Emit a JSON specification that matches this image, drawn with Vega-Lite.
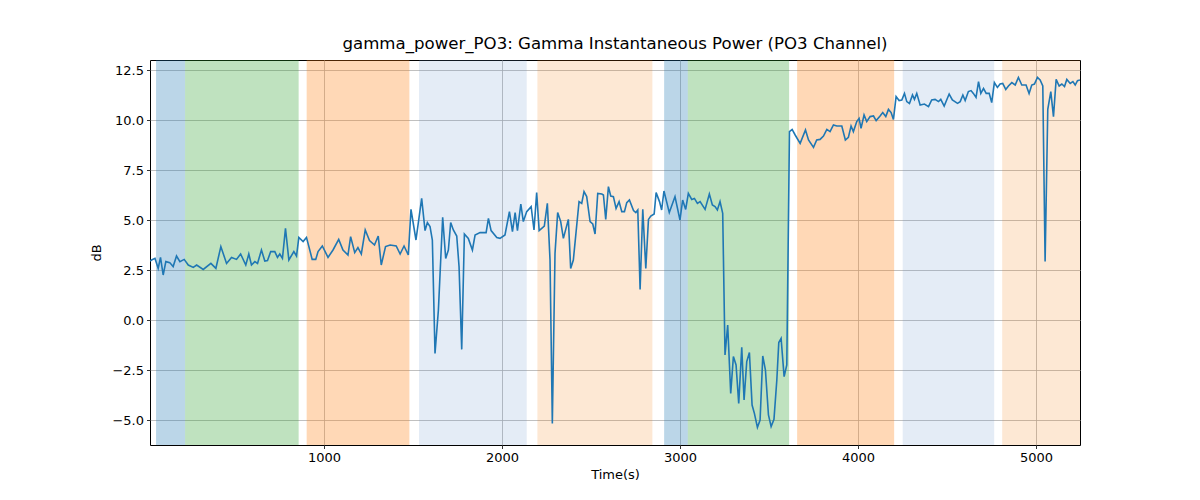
{
  "$schema": "https://vega.github.io/schema/vega-lite/v6.json",
  "width": 930,
  "height": 385,
  "autosize": "none",
  "padding": {"left": 150, "top": 60, "right": 120, "bottom": 55},
  "title": {
    "text": "gamma_power_PO3: Gamma Instantaneous Power (PO3 Channel)",
    "font": "DejaVu Sans",
    "fontSize": 16.6,
    "fontWeight": "normal",
    "color": "black",
    "offset": 7
  },
  "datasets": {
    "spans": [
      {"start": 57, "end": 220, "kind": "A"},
      {"start": 220, "end": 858, "kind": "B"},
      {"start": 903, "end": 1480, "kind": "C"},
      {"start": 1534, "end": 2139, "kind": "D"},
      {"start": 2199, "end": 2845, "kind": "E"},
      {"start": 2911, "end": 3044, "kind": "A"},
      {"start": 3044, "end": 3613, "kind": "B"},
      {"start": 3658, "end": 4203, "kind": "C"},
      {"start": 4251, "end": 4765, "kind": "D"},
      {"start": 4810, "end": 5247, "kind": "E"}
    ],
    "power": [
      {"t": 23, "db": 2.95}, {"t": 32, "db": 3.0}, {"t": 51, "db": 3.08}, {"t": 69, "db": 2.58},
      {"t": 82, "db": 3.13}, {"t": 97, "db": 2.25}, {"t": 112, "db": 2.92}, {"t": 134, "db": 2.87},
      {"t": 153, "db": 2.67}, {"t": 172, "db": 3.2}, {"t": 191, "db": 2.92}, {"t": 215, "db": 3.03},
      {"t": 238, "db": 2.75}, {"t": 266, "db": 2.63}, {"t": 285, "db": 2.75}, {"t": 322, "db": 2.53},
      {"t": 365, "db": 2.83}, {"t": 393, "db": 2.58}, {"t": 421, "db": 3.67}, {"t": 453, "db": 2.83},
      {"t": 481, "db": 3.13}, {"t": 509, "db": 3.03}, {"t": 532, "db": 3.3}, {"t": 561, "db": 2.75},
      {"t": 578, "db": 3.3}, {"t": 593, "db": 2.75}, {"t": 612, "db": 2.92}, {"t": 627, "db": 2.83},
      {"t": 649, "db": 3.5}, {"t": 668, "db": 2.95}, {"t": 683, "db": 2.97}, {"t": 701, "db": 3.42},
      {"t": 724, "db": 3.42}, {"t": 739, "db": 3.13}, {"t": 752, "db": 3.3}, {"t": 767, "db": 3.08},
      {"t": 784, "db": 4.58}, {"t": 803, "db": 3.0}, {"t": 831, "db": 3.42}, {"t": 846, "db": 3.2},
      {"t": 859, "db": 4.13}, {"t": 883, "db": 3.92}, {"t": 902, "db": 4.13}, {"t": 934, "db": 3.03},
      {"t": 954, "db": 3.03}, {"t": 967, "db": 3.42}, {"t": 991, "db": 3.7}, {"t": 1023, "db": 3.13},
      {"t": 1051, "db": 3.5}, {"t": 1083, "db": 4.03}, {"t": 1107, "db": 3.5}, {"t": 1135, "db": 3.25},
      {"t": 1150, "db": 4.17}, {"t": 1173, "db": 3.37}, {"t": 1191, "db": 3.62}, {"t": 1210, "db": 3.3},
      {"t": 1232, "db": 4.5}, {"t": 1256, "db": 3.97}, {"t": 1284, "db": 3.75}, {"t": 1305, "db": 4.2},
      {"t": 1322, "db": 2.75}, {"t": 1346, "db": 3.67}, {"t": 1372, "db": 3.75}, {"t": 1406, "db": 3.7},
      {"t": 1428, "db": 3.3}, {"t": 1450, "db": 3.7}, {"t": 1474, "db": 3.25}, {"t": 1489, "db": 5.53},
      {"t": 1517, "db": 4.0}, {"t": 1549, "db": 6.08}, {"t": 1568, "db": 4.47}, {"t": 1581, "db": 4.87},
      {"t": 1596, "db": 4.67}, {"t": 1609, "db": 4.0}, {"t": 1624, "db": -1.67}, {"t": 1643, "db": 0.5},
      {"t": 1667, "db": 5.13}, {"t": 1684, "db": 3.08}, {"t": 1699, "db": 3.5}, {"t": 1712, "db": 4.87},
      {"t": 1727, "db": 4.5}, {"t": 1746, "db": 4.2}, {"t": 1759, "db": 2.67}, {"t": 1774, "db": -1.47},
      {"t": 1789, "db": 4.3}, {"t": 1811, "db": 4.08}, {"t": 1834, "db": 3.5}, {"t": 1849, "db": 4.25},
      {"t": 1877, "db": 4.37}, {"t": 1911, "db": 4.37}, {"t": 1924, "db": 5.08}, {"t": 1939, "db": 4.47},
      {"t": 1971, "db": 4.12}, {"t": 1989, "db": 4.08}, {"t": 2017, "db": 4.25}, {"t": 2042, "db": 5.42},
      {"t": 2059, "db": 4.42}, {"t": 2074, "db": 5.37}, {"t": 2087, "db": 4.47}, {"t": 2106, "db": 5.8},
      {"t": 2120, "db": 4.92}, {"t": 2139, "db": 5.42}, {"t": 2164, "db": 5.67}, {"t": 2180, "db": 4.5},
      {"t": 2195, "db": 6.37}, {"t": 2209, "db": 4.47}, {"t": 2238, "db": 4.7}, {"t": 2255, "db": 5.83},
      {"t": 2270, "db": 3.0}, {"t": 2283, "db": -5.17}, {"t": 2298, "db": 3.33}, {"t": 2313, "db": 5.37},
      {"t": 2330, "db": 4.92}, {"t": 2345, "db": 4.08}, {"t": 2373, "db": 5.03}, {"t": 2386, "db": 2.58},
      {"t": 2401, "db": 3.0}, {"t": 2433, "db": 5.92}, {"t": 2448, "db": 5.83}, {"t": 2461, "db": 6.42},
      {"t": 2476, "db": 6.17}, {"t": 2495, "db": 4.92}, {"t": 2510, "db": 4.8}, {"t": 2523, "db": 4.3},
      {"t": 2538, "db": 6.33}, {"t": 2561, "db": 6.3}, {"t": 2570, "db": 6.25}, {"t": 2583, "db": 5.03},
      {"t": 2598, "db": 6.67}, {"t": 2611, "db": 6.2}, {"t": 2626, "db": 6.17}, {"t": 2641, "db": 5.58},
      {"t": 2658, "db": 5.92}, {"t": 2673, "db": 5.42}, {"t": 2688, "db": 5.42}, {"t": 2701, "db": 5.87},
      {"t": 2716, "db": 6.0}, {"t": 2739, "db": 5.47}, {"t": 2752, "db": 5.37}, {"t": 2763, "db": 5.5},
      {"t": 2776, "db": 1.53}, {"t": 2791, "db": 5.53}, {"t": 2808, "db": 2.58}, {"t": 2823, "db": 5.03},
      {"t": 2836, "db": 5.2}, {"t": 2855, "db": 5.3}, {"t": 2866, "db": 6.37}, {"t": 2885, "db": 5.92},
      {"t": 2897, "db": 5.5}, {"t": 2910, "db": 6.45}, {"t": 2940, "db": 5.37}, {"t": 2972, "db": 6.17},
      {"t": 3000, "db": 5.0}, {"t": 3015, "db": 6.0}, {"t": 3032, "db": 5.53}, {"t": 3047, "db": 6.33},
      {"t": 3066, "db": 6.03}, {"t": 3081, "db": 6.08}, {"t": 3098, "db": 5.83}, {"t": 3113, "db": 5.92},
      {"t": 3141, "db": 5.53}, {"t": 3165, "db": 6.3}, {"t": 3182, "db": 5.75}, {"t": 3197, "db": 5.67},
      {"t": 3210, "db": 5.5}, {"t": 3225, "db": 5.92}, {"t": 3240, "db": 5.33}, {"t": 3253, "db": -1.75},
      {"t": 3268, "db": -0.25}, {"t": 3285, "db": -3.67}, {"t": 3300, "db": -1.83}, {"t": 3315, "db": -2.25},
      {"t": 3330, "db": -4.17}, {"t": 3347, "db": -1.37}, {"t": 3360, "db": -4.0}, {"t": 3375, "db": -2.08},
      {"t": 3390, "db": -1.63}, {"t": 3405, "db": -4.25}, {"t": 3418, "db": -4.67}, {"t": 3435, "db": -5.37},
      {"t": 3450, "db": -5.0}, {"t": 3465, "db": -1.8}, {"t": 3480, "db": -2.5}, {"t": 3497, "db": -4.75},
      {"t": 3512, "db": -5.33}, {"t": 3528, "db": -4.97}, {"t": 3544, "db": -3.0}, {"t": 3555, "db": -1.13},
      {"t": 3568, "db": -0.92}, {"t": 3585, "db": -2.83}, {"t": 3600, "db": -2.25}, {"t": 3615, "db": 9.42},
      {"t": 3630, "db": 9.53}, {"t": 3647, "db": 9.25}, {"t": 3675, "db": 8.83}, {"t": 3705, "db": 9.5},
      {"t": 3722, "db": 9.0}, {"t": 3750, "db": 8.63}, {"t": 3768, "db": 9.0}, {"t": 3787, "db": 9.03},
      {"t": 3806, "db": 9.2}, {"t": 3825, "db": 9.53}, {"t": 3843, "db": 9.42}, {"t": 3862, "db": 9.75},
      {"t": 3881, "db": 9.7}, {"t": 3909, "db": 9.7}, {"t": 3929, "db": 9.0}, {"t": 3946, "db": 9.13},
      {"t": 3961, "db": 9.7}, {"t": 3974, "db": 9.42}, {"t": 3993, "db": 9.92}, {"t": 4006, "db": 10.08},
      {"t": 4017, "db": 9.58}, {"t": 4034, "db": 10.25}, {"t": 4049, "db": 9.92}, {"t": 4068, "db": 10.17},
      {"t": 4087, "db": 10.2}, {"t": 4102, "db": 9.97}, {"t": 4124, "db": 10.2}, {"t": 4139, "db": 10.37},
      {"t": 4156, "db": 10.17}, {"t": 4171, "db": 10.53}, {"t": 4186, "db": 10.37}, {"t": 4199, "db": 10.03},
      {"t": 4214, "db": 11.17}, {"t": 4231, "db": 10.97}, {"t": 4246, "db": 11.0}, {"t": 4261, "db": 11.33},
      {"t": 4274, "db": 10.92}, {"t": 4289, "db": 10.83}, {"t": 4306, "db": 11.25}, {"t": 4317, "db": 11.03},
      {"t": 4330, "db": 11.33}, {"t": 4349, "db": 10.75}, {"t": 4373, "db": 10.8}, {"t": 4396, "db": 10.67},
      {"t": 4414, "db": 11.0}, {"t": 4433, "db": 11.03}, {"t": 4452, "db": 10.92}, {"t": 4465, "db": 11.03},
      {"t": 4484, "db": 10.7}, {"t": 4512, "db": 11.3}, {"t": 4530, "db": 11.0}, {"t": 4559, "db": 10.83},
      {"t": 4574, "db": 10.92}, {"t": 4589, "db": 11.25}, {"t": 4602, "db": 10.97}, {"t": 4620, "db": 11.42},
      {"t": 4635, "db": 11.47}, {"t": 4648, "db": 11.33}, {"t": 4663, "db": 11.13}, {"t": 4677, "db": 11.92},
      {"t": 4690, "db": 11.33}, {"t": 4705, "db": 11.58}, {"t": 4720, "db": 11.33}, {"t": 4737, "db": 11.33},
      {"t": 4751, "db": 10.87}, {"t": 4766, "db": 11.87}, {"t": 4783, "db": 11.63}, {"t": 4798, "db": 11.8},
      {"t": 4813, "db": 11.83}, {"t": 4830, "db": 11.53}, {"t": 4845, "db": 11.7}, {"t": 4864, "db": 11.87},
      {"t": 4883, "db": 11.75}, {"t": 4901, "db": 12.13}, {"t": 4920, "db": 11.75}, {"t": 4944, "db": 11.75},
      {"t": 4961, "db": 11.33}, {"t": 4976, "db": 11.75}, {"t": 4991, "db": 11.8}, {"t": 5008, "db": 12.13},
      {"t": 5023, "db": 12.0}, {"t": 5038, "db": 11.7}, {"t": 5051, "db": 2.92}, {"t": 5066, "db": 10.53},
      {"t": 5083, "db": 11.42}, {"t": 5098, "db": 10.17}, {"t": 5113, "db": 12.03}, {"t": 5130, "db": 11.7},
      {"t": 5145, "db": 11.8}, {"t": 5160, "db": 11.67}, {"t": 5173, "db": 12.03}, {"t": 5192, "db": 11.83},
      {"t": 5207, "db": 11.92}, {"t": 5220, "db": 11.75}, {"t": 5233, "db": 11.97}, {"t": 5247, "db": 12.0}
    ]
  },
  "layer": [
    {
      "data": {"name": "spans"},
      "transform": [{"filter": "datum.kind === 'A' || datum.kind === 'B' || datum.kind === 'C'"}],
      "mark": {"type": "rect", "clip": true, "opacity": 0.3},
      "encoding": {
        "x": {"field": "start", "type": "quantitative", "scale": {"domain": [23, 5247], "nice": false, "zero": false}},
        "x2": {"field": "end"},
        "color": {
          "field": "kind",
          "type": "nominal",
          "scale": {"domain": ["A", "B", "C", "D", "E"], "range": ["#1f77b4", "#2ca02c", "#ff7f0e", "#608fca", "#f37802"]},
          "legend": null
        }
      }
    },
    {
      "data": {"name": "spans"},
      "transform": [{"filter": "datum.kind === 'D' || datum.kind === 'E'"}],
      "mark": {"type": "rect", "clip": true, "opacity": 0.17},
      "encoding": {
        "x": {"field": "start", "type": "quantitative"},
        "x2": {"field": "end"},
        "color": {"field": "kind", "type": "nominal", "legend": null}
      }
    },
    {
      "data": {"name": "power"},
      "mark": {"type": "line", "color": "#1f77b4", "strokeWidth": 1.6, "clip": true},
      "encoding": {
        "x": {
          "field": "t",
          "type": "quantitative",
          "title": "Time(s)",
          "scale": {"domain": [23, 5247], "nice": false, "zero": false},
          "axis": {"values": [1000, 2000, 3000, 4000, 5000], "format": "d"}
        },
        "y": {
          "field": "db",
          "type": "quantitative",
          "title": "dB",
          "scale": {"domain": [-6.25, 13.0], "nice": false, "zero": false},
          "axis": {"values": [-5, -2.5, 0, 2.5, 5, 7.5, 10, 12.5], "format": ".1f"}
        }
      }
    }
  ],
  "config": {
    "view": {"stroke": "black", "strokeWidth": 1},
    "axis": {
      "grid": true,
      "gridColor": "#b0b0b0",
      "gridWidth": 0.8,
      "gridOpacity": 1,
      "domain": false,
      "tickColor": "black",
      "tickSize": 3.5,
      "tickWidth": 0.8,
      "labelFont": "DejaVu Sans",
      "labelFontSize": 13,
      "labelColor": "black",
      "labelPadding": 3,
      "titleFont": "DejaVu Sans",
      "titleFontSize": 13,
      "titleFontWeight": "normal",
      "titleColor": "black"
    },
    "axisX": {"titlePadding": 4},
    "axisY": {"titlePadding": 8}
  }
}
